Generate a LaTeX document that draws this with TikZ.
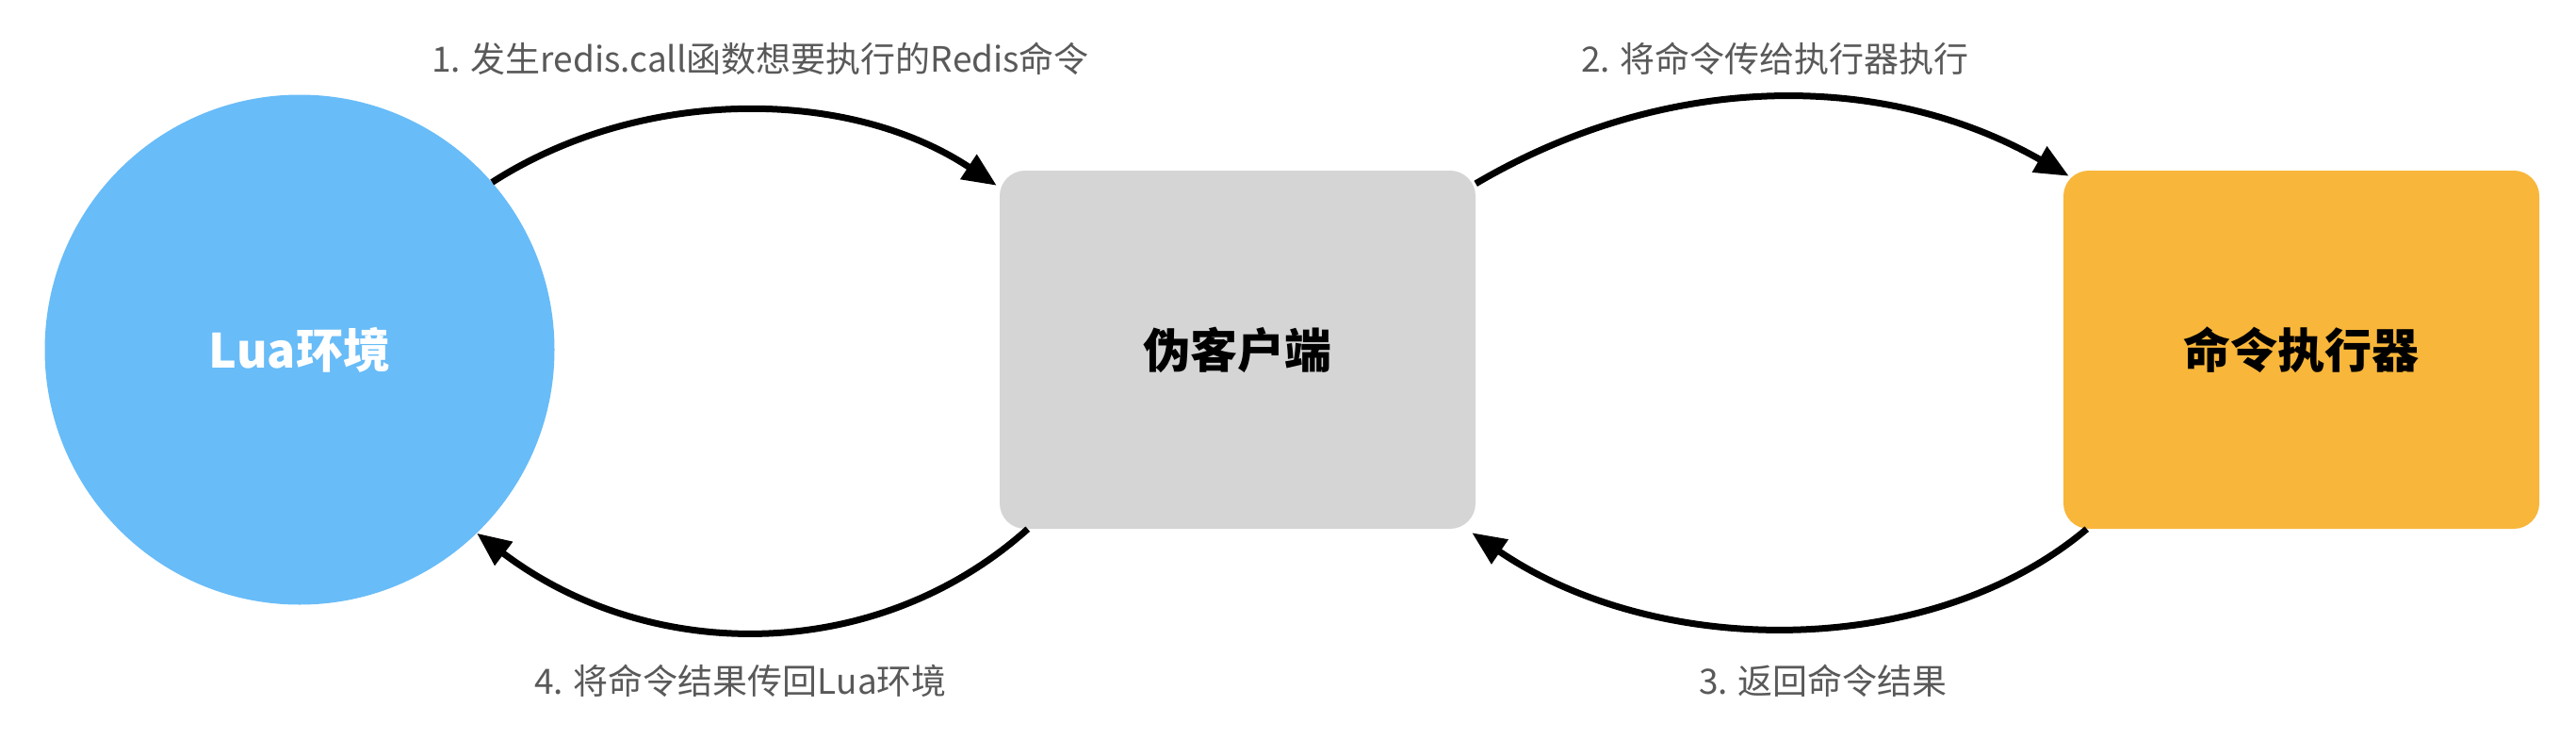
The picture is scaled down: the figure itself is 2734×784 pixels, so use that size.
\documentclass[tikz,border=0pt]{standalone}
\usepackage{fontspec}
\setmainfont{Noto Sans CJK SC}
\usetikzlibrary{arrows.meta}
\definecolor{luablue}{HTML}{68BCF8}
\definecolor{clientgray}{HTML}{D5D5D5}
\definecolor{execorange}{HTML}{F8B63A}
\definecolor{labelgray}{HTML}{595959}
\begin{document}
\begin{tikzpicture}[x=1pt,y=-1pt,
  mainlabel/.style={font=\fontsize{50}{60}\selectfont\bfseries},
  boxnode/.style={rectangle,rounded corners=27pt,minimum width=505pt,minimum height=380pt,inner sep=0pt,mainlabel},
  steplabel/.style={font=\fontsize{37}{44}\selectfont,text=labelgray,inner sep=0pt},
  flow/.style={line width=7pt,-{Triangle[length=36pt,width=30pt]}}]
\useasboundingbox (0,0) rectangle (2734,784);
\node[circle,fill=luablue,minimum size=541pt,inner sep=0pt,mainlabel,text=white] (lua) at (318,371) {Lua环境};
\node[boxnode,fill=clientgray] (client) at (1313.5,371) {伪客户端};
\node[boxnode,fill=execorange] (exec) at (2442.5,371) {命令执行器};
\draw[flow] (lua.41) .. controls (680,92) and (900,92) .. ([xshift=-3pt,yshift=-16pt]client.north west);
\draw[flow] ([xshift=30pt]client.south west) .. controls (930,705) and (690,705) .. (lua.-46);
\draw[flow] ([yshift=-14pt]client.north east) .. controls (1770,75) and (2000,75) .. ([xshift=6pt,yshift=-6pt]exec.north west);
\draw[flow] ([xshift=25pt]exec.south west) .. controls (2050,700) and (1760,700) .. ([xshift=-4pt,yshift=-4pt]client.south east);
\node[steplabel] (l1) at (807,62) {1. 发生redis.call函数想要执行的Redis命令};
\node[steplabel] (l2) at (1884,62) {2. 将命令传给执行器执行};
\node[steplabel] (l3) at (1935,722) {3. 返回命令结果};
\node[steplabel] (l4) at (786,722) {4. 将命令结果传回Lua环境};
\end{tikzpicture}
\end{document}
